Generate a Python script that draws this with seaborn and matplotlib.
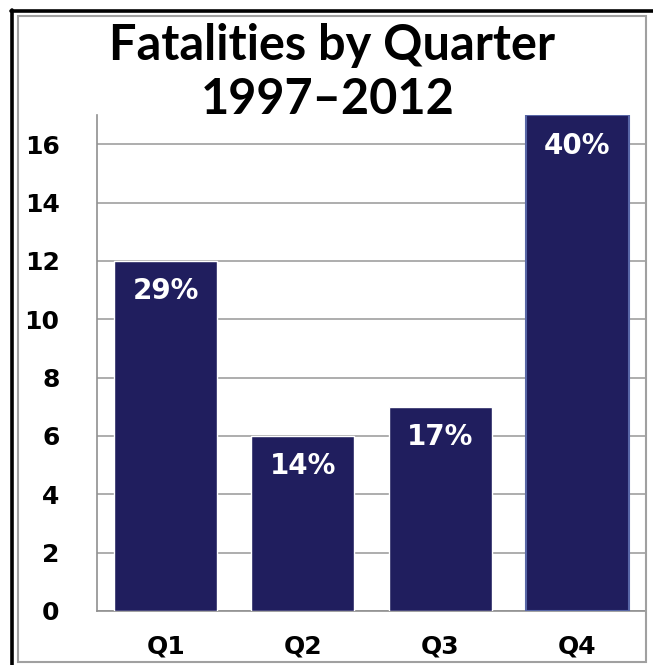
import matplotlib
matplotlib.use("Agg")
from matplotlib import pyplot as plt
from matplotlib.patches import Rectangle
from matplotlib.lines import Line2D
import numpy as np
import seaborn as sns
import pandas as pd

quarters = ["Q1", "Q2", "Q3", "Q4"]
fatalities = [12, 6, 7, 17]
shares = ["29%", "14%", "17%", "40%"]
yticks = [0, 2, 4, 6, 8, 10, 12, 14, 16]

df = pd.DataFrame({"quarter": quarters, "fatalities": fatalities})

sns.set_style("white")
plt.rcParams["font.family"] = ["DejaVu Sans"]
plt.rcParams["text.color"] = "black"
plt.rcParams["xtick.labelcolor"] = "black"
plt.rcParams["ytick.labelcolor"] = "black"

fig = plt.figure(figsize=(6.53, 6.65), dpi=100)
ax = fig.add_axes([97 / 653, 1 - 611 / 665, 549 / 653, 496 / 665])

sns.barplot(data=df, x="quarter", y="fatalities", color="#201E5E",
            saturation=1, width=0.75, ax=ax, zorder=3)
ax.patches[3].set_edgecolor("#5866A6")
ax.patches[3].set_linewidth(1.5)

ax.set_ylim(0, 17)
ax.set_xlim(-0.5, 3.5)
ax.set_yticks(yticks)
ax.set_yticklabels([str(v) for v in yticks], fontsize=18, fontweight="bold")
ax.set_xticks(range(4))
ax.set_xticklabels(quarters, fontsize=18, fontweight="bold")
ax.set_xticks(np.arange(-0.5, 4, 1), minor=True)
ax.tick_params(axis="x", which="major", length=0, pad=17)
ax.tick_params(axis="x", which="minor", length=10, width=1.2, color="#909090", direction="out")
ax.tick_params(axis="y", length=11, width=1.2, color="#909090", direction="out", pad=16)
ax.set_xlabel("")
ax.set_ylabel("")
ax.yaxis.grid(True, color="#A0A0A0", linewidth=1.2, zorder=0)
ax.set_axisbelow(True)
for s in ["top", "right"]:
    ax.spines[s].set_visible(False)
for s in ["left", "bottom"]:
    ax.spines[s].set_color("#909090")
    ax.spines[s].set_linewidth(1.2)

for i, (v, lab) in enumerate(zip(fatalities, shares)):
    ax.annotate(lab, (i, v), xytext=(0, -22), textcoords="offset points",
                ha="center", va="center", color="white", fontsize=20,
                fontweight="bold", zorder=5)

# title
fig.text(332 / 653, 1 - 46 / 665, "Fatalities by Quarter", ha="center", va="center",
         fontsize=35, fontweight="bold", color="black", family=["Lato", "DejaVu Sans"])
fig.text(328 / 653, 1 - 99 / 665, "1997\u20132012", ha="center", va="center",
         fontsize=35, fontweight="bold", color="black", family=["Lato", "DejaVu Sans"])

# frames
fig.patches.append(Rectangle((18 / 653, 1 - 662 / 665), 628 / 653, 646 / 665,
                             transform=fig.transFigure, fill=False,
                             edgecolor="#A0A0A0", linewidth=1.5, zorder=0))
fig.lines.append(Line2D([12.5 / 653, 12.5 / 653], [0, 1 - 10 / 665], transform=fig.transFigure,
                        color="black", linewidth=2.6))
fig.lines.append(Line2D([11 / 653, 1], [1 - 10.5 / 665, 1 - 10.5 / 665], transform=fig.transFigure,
                        color="black", linewidth=2.6))

plt.savefig("out.png", dpi=100)
